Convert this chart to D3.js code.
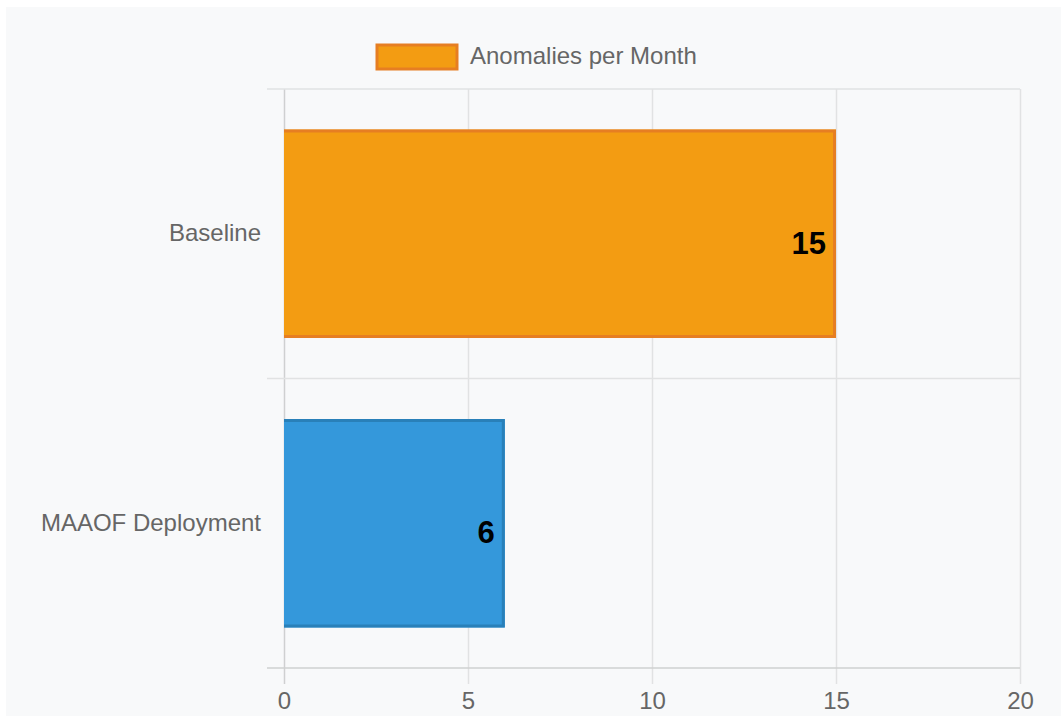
<!DOCTYPE html>
<html>
<head>
<meta charset="utf-8">
<script src="https://cdn.jsdelivr.net/npm/d3@7/dist/d3.min.js"></script>
<style>
  html, body { margin: 0; padding: 0; background: #ffffff; }
  svg { display: block; }
  text { font-family: "Liberation Sans", Arial, Helvetica, sans-serif; }
</style>
</head>
<body>
<svg id="chart" width="1061" height="716"></svg>
<script>
const categories = ["Baseline", "MAAOF Deployment"];
const values = [15, 6];
const fillColors = ["#f39c12", "#3498db"];
const borderColors = ["#e67e22", "#2980b9"];
const xTicks = [0, 5, 10, 15, 20];
const seriesName = "Anomalies per Month";

const svg = d3.select("#chart");
const W = 1061, H = 716;

// panel background
svg.append("rect").attr("x", 6).attr("y", 7).attr("width", W - 6).attr("height", H - 7).attr("fill", "#f8f9fa");

const plot = { left: 284, right: 1020, top: 89, bottom: 668 };

const x = d3.scaleLinear().domain([0, 20]).range([plot.left, plot.right]);
const y = d3.scaleBand().domain(categories).range([plot.top, plot.bottom]).paddingInner(0.28).paddingOuter(0.14);
const yGrid = d3.scaleBand().domain(categories).range([plot.top, plot.bottom]).padding(0);

const gridColor = "#e1e2e3";
const zeroColor = "#cfd0d1";

// vertical gridlines (x axis) with tick marks
const xAxis = d3.axisBottom(x).tickValues(xTicks).tickSize(plot.bottom - plot.top + 16).tickFormat(d3.format("d")).tickPadding(10);
const gx = svg.append("g").attr("transform", `translate(0,${plot.top})`).call(xAxis);
gx.select(".domain").remove();
gx.selectAll(".tick line").attr("stroke", d => d === 0 ? zeroColor : gridColor).attr("stroke-width", 1.5);
gx.selectAll(".tick text").attr("fill", "#666").attr("font-size", 24).attr("dy", "0.71em")
  .attr("y", plot.bottom - plot.top + 24);

// horizontal gridlines at category boundaries with tick marks
const boundaries = categories.map(c => yGrid(c)).concat([plot.bottom]);
svg.append("g").selectAll("line").data(boundaries).join("line")
  .attr("x1", plot.left - 17).attr("x2", plot.right)
  .attr("y1", d => d).attr("y2", d => d)
  .attr("stroke", (d, i) => i === boundaries.length - 1 ? zeroColor : gridColor)
  .attr("stroke-width", 1.5);

// y axis labels
const yAxis = d3.axisLeft(y).tickSize(0).tickPadding(23);
const gy = svg.append("g").attr("transform", `translate(${plot.left},0)`).call(yAxis);
gy.select(".domain").remove();
gy.selectAll(".tick text").attr("fill", "#666").attr("font-size", 24);

// bars
const data = categories.map((c, i) => ({ c, v: values[i], fill: fillColors[i], stroke: borderColors[i] }));
const bw = 3;
const bars = svg.append("g").selectAll("g").data(data).join("g");
bars.append("rect")
  .attr("x", x(0)).attr("y", d => y(d.c))
  .attr("width", d => x(d.v) - x(0)).attr("height", y.bandwidth())
  .attr("fill", d => d.fill);
bars.append("path")
  .attr("d", d => {
    const x0 = x(0), x1 = x(d.v) - bw / 2, y0 = y(d.c) + bw / 2, y1 = y(d.c) + y.bandwidth() - bw / 2;
    return `M${x0},${y0}L${x1},${y0}L${x1},${y1}L${x0},${y1}`;
  })
  .attr("fill", "none").attr("stroke", d => d.stroke).attr("stroke-width", bw);

// value labels
bars.append("text")
  .attr("x", d => x(d.v) - 10)
  .attr("y", d => y(d.c) + y.bandwidth() / 2 + 20)
  .attr("text-anchor", "end")
  .attr("font-size", 31).attr("font-weight", "bold").attr("fill", "#000")
  .text(d => d.v);

// legend
const lg = svg.append("g");
lg.append("rect").attr("x", 377).attr("y", 45).attr("width", 80).attr("height", 24)
  .attr("fill", fillColors[0]).attr("stroke", borderColors[0]).attr("stroke-width", 3);
lg.append("text").attr("x", 470).attr("y", 56).attr("dy", "0.35em")
  .attr("fill", "#666").attr("font-size", 24).text(seriesName);
</script>
</body>
</html>
